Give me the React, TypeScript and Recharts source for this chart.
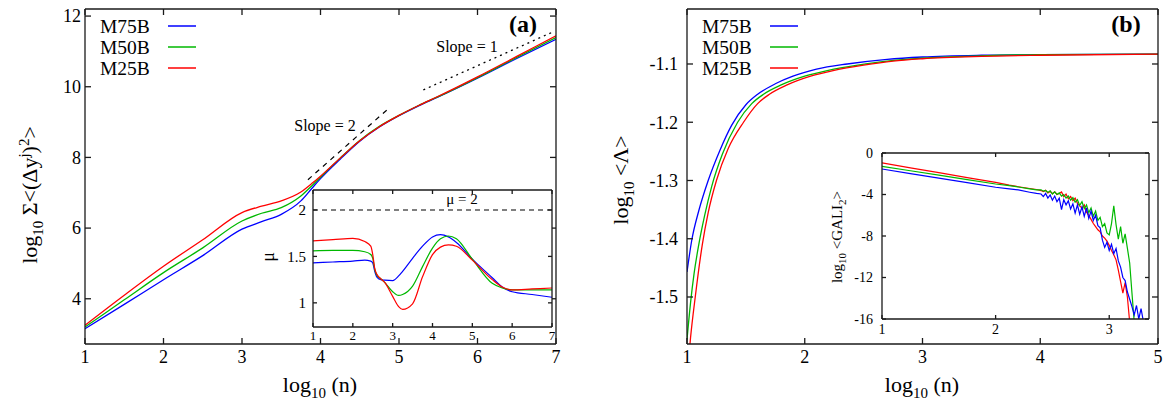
import React from 'react';
import { LineChart, Line, XAxis, YAxis, CartesianGrid, ReferenceLine } from 'recharts';

// ---- panel (a): log10 sum <(dy^j)^2> vs log10(n)
const LOG_N_A = [1, 1.5, 2, 2.5, 3, 3.25, 3.5, 3.75, 3.9, 4, 4.25, 4.5, 4.75, 5, 5.25, 5.5, 6, 6.5, 7];
const MSD_M75B = [3.15, 3.84, 4.54, 5.22, 5.97, 6.18, 6.39, 6.77, 7.15, 7.4, 7.95, 8.46, 8.86, 9.18, 9.46, 9.71, 10.24, 10.8, 11.34];
const MSD_M50B = [3.2, 3.97, 4.74, 5.44, 6.2, 6.42, 6.58, 6.91, 7.22, 7.44, 7.98, 8.48, 8.88, 9.19, 9.47, 9.72, 10.26, 10.83, 11.39];
const MSD_M25B = [3.25, 4.1, 4.92, 5.67, 6.44, 6.62, 6.77, 7.02, 7.28, 7.47, 7.98, 8.47, 8.87, 9.19, 9.47, 9.73, 10.28, 10.86, 11.44];

const SLOPE2_X = [3.84, 4.85];
const SLOPE2_Y = [7.37, 9.35];
const SLOPE1_X = [5.31, 6.96];
const SLOPE1_Y = [9.91, 11.55];

const X_TICKS_A = [1, 2, 3, 4, 5, 6, 7];
const Y_TICKS_A = [4, 6, 8, 10, 12];

// ---- inset (a): mu
const MU_X = [1, 1.5, 2, 2.3, 2.45, 2.5, 2.55, 2.6, 2.7, 2.8, 3, 3.15, 3.25, 3.5, 3.75, 4, 4.2, 4.4, 4.6, 5, 5.5, 5.75, 6, 6.5, 7];
const MU_M75B = [1.43, 1.44, 1.45, 1.46, 1.45, 1.43, 1.34, 1.28, 1.25, 1.245, 1.24, 1.29, 1.34, 1.48, 1.61, 1.71, 1.735, 1.71, 1.65, 1.47, 1.27, 1.17, 1.12, 1.09, 1.06];
const MU_M50B = [1.56, 1.565, 1.565, 1.55, 1.52, 1.48, 1.36, 1.3, 1.26, 1.22, 1.12, 1.08, 1.09, 1.18, 1.39, 1.59, 1.69, 1.72, 1.69, 1.47, 1.21, 1.16, 1.14, 1.14, 1.14];
const MU_M25B = [1.667, 1.68, 1.695, 1.66, 1.61, 1.52, 1.37, 1.31, 1.26, 1.22, 1.07, 0.96, 0.93, 0.99, 1.28, 1.52, 1.6, 1.625, 1.61, 1.46, 1.25, 1.17, 1.14, 1.15, 1.16];
const MU_X_TICKS = [1, 2, 3, 4, 5, 6, 7];
const MU_Y_TICKS = [1, 1.5, 2];

// ---- panel (b): log10 <Lambda>
const LAMBDA_X_M75B = [1, 1.04, 1.1, 1.18, 1.28, 1.38, 1.5, 1.6, 1.75, 1.9, 2.1, 2.36, 2.7, 3, 3.5, 4, 5];
const LAMBDA_M75B = [-1.457, -1.403, -1.352, -1.3, -1.248, -1.205, -1.17, -1.152, -1.134, -1.121, -1.109, -1.1, -1.092, -1.088, -1.085, -1.084, -1.083];
const LAMBDA_X_M50B = [1, 1.03, 1.06, 1.1, 1.15, 1.21, 1.3, 1.43, 1.55, 1.65, 1.8, 2, 2.2, 2.45, 2.7, 3, 3.5, 4, 5];
const LAMBDA_M50B = [-1.573, -1.51, -1.46, -1.41, -1.36, -1.31, -1.255, -1.2, -1.168, -1.152, -1.136, -1.121, -1.111, -1.102, -1.095, -1.09, -1.086, -1.084, -1.083];
const LAMBDA_X_M25B = [1, 1.03, 1.07, 1.13, 1.18, 1.25, 1.35, 1.48, 1.6, 1.7, 1.85, 2.05, 2.25, 2.5, 2.75, 3, 3.5, 4, 5];
const LAMBDA_M25B = [-1.64, -1.57, -1.5, -1.41, -1.355, -1.3, -1.245, -1.2, -1.168, -1.152, -1.136, -1.121, -1.111, -1.102, -1.095, -1.091, -1.087, -1.085, -1.083];
const X_TICKS_B = [1, 2, 3, 4, 5];
const Y_TICKS_B = [-1.5, -1.4, -1.3, -1.2, -1.1];

// ---- inset (b): log10 <GALI2>
const GALI_X = [
  1, 1.25, 1.5, 1.75, 2, 2.12, 2.2, 2.3, 2.36,
  2.4, 2.42, 2.44, 2.46, 2.48, 2.5, 2.52, 2.54, 2.56, 2.58,
  2.6, 2.62, 2.64, 2.66, 2.68, 2.7, 2.72, 2.74, 2.76, 2.78,
  2.8, 2.82, 2.84, 2.86, 2.88, 2.9, 2.92, 2.94, 2.96, 2.98,
  3.0, 3.02, 3.04, 3.06, 3.08, 3.1, 3.12, 3.14, 3.16, 3.18,
  3.2, 3.22, 3.24, 3.26, 3.28, 3.3,
];
const GALI_M75B = [
  -1.54, -1.98, -2.42, -2.86, -3.3, -3.45, -3.56, -3.78, -3.9,
  -3.95, -4.2, -3.9, -4.35, -4.05, -4.55, -4.15, -4.7, -4.35, -5.45,
  -4.5, -5.0, -4.6, -5.4, -4.9, -5.8, -5.0, -5.9, -5.2, -6.1,
  -5.3, -6.3, -5.6, -6.5, -6.0, -7.0, -7.2, -8.4, -9.1, -8.6,
  -9.4, -8.8, -9.7, -9.2, -10.4, -11.0, -12.0, -12.3, -13.4, -14.1,
  -14.8, -15.6, -14.7, -16.0, -15.0, -16.2,
];
const GALI_M50B = [
  -1.28, -1.71, -2.14, -2.57, -2.99, -3.15, -3.28, -3.45, -3.55,
  -3.55, -3.68, -3.6, -3.8, -3.65, -3.95, -3.75, -4.0, -3.85, -4.15,
  -4.0, -4.35, -4.15, -4.55, -4.3, -4.75, -4.5, -5.05, -4.7, -5.35,
  -5.0, -5.75, -5.3, -6.1, -5.6, -6.5, -6.2, -7.1, -6.8, -7.7,
  -7.9, -6.8, -5.1, -6.9, -8.3, -7.1, -8.7, -7.8, -9.2, -10.6,
  -13.5, -16.3, null, null, null, null,
];
const GALI_M25B = [
  -0.96, -1.43, -1.9, -2.37, -2.83, -3.1, -3.25, -3.42, -3.52,
  -3.62, -3.72, -3.6, -3.85, -3.7, -3.92, -3.75, -4.0, -3.9, -3.75,
  -4.2, -3.95, -4.4, -4.2, -4.6, -4.35, -4.85, -5.1, -5.3, -5.0,
  -5.7, -6.0, -6.4, -6.8, -7.1, -7.4, -7.6, -8.0, -8.2, -8.5,
  -8.9, -9.4, -9.8, -10.3, -11.3, -12.4, -13.5, -12.5, -13.9, -16.3,
  null, null, null, null, null, null,
];
const GALI_X_TICKS = [1, 2, 3];
const GALI_Y_TICKS = [-16, -12, -8, -4, 0];

const SERIES = ['M75B', 'M50B', 'M25B'];

const FONT = '"Liberation Serif", "Times New Roman", serif';
const INK = '#1a1a1a';
const COLORS: Record<string, string> = { M75B: '#0000ff', M50B: '#00b800', M25B: '#ff0000' };

const pts = (xs: number[], ys: (number | null)[]) => xs.map((x, i) => ({ x, y: ys[i] }));

const msd: Record<string, number[]> = { M75B: MSD_M75B, M50B: MSD_M50B, M25B: MSD_M25B };
const mu: Record<string, number[]> = { M75B: MU_M75B, M50B: MU_M50B, M25B: MU_M25B };
const lambda: Record<string, [number[], number[]]> = {
  M75B: [LAMBDA_X_M75B, LAMBDA_M75B],
  M50B: [LAMBDA_X_M50B, LAMBDA_M50B],
  M25B: [LAMBDA_X_M25B, LAMBDA_M25B],
};
const gali: Record<string, (number | null)[]> = { M75B: GALI_M75B, M50B: GALI_M50B, M25B: GALI_M25B };

type FrameOpts = {
  xDomain: [number, number];
  xTicks: number[];
  yDomain: [number, number];
  yTicks: number[];
  tickLen: number;
  xFont: number;
  yFont: number;
  xMargin: number;
  yMargin: number;
  yWidth: number;
  xHeight: number;
  yFormat?: (v: number) => string;
};

// gnuplot-like box: inward ticks on all four sides, labels on bottom/left only
function frameAxes(p: FrameOpts) {
  const blank = () => '';
  return [
    <XAxis key="xb" dataKey="x" type="number" domain={p.xDomain} ticks={p.xTicks} allowDataOverflow interval={0}
      height={p.xHeight} tickSize={-p.tickLen} tickMargin={p.xMargin} stroke={INK} strokeWidth={1.3}
      tick={{ fill: '#000', fontSize: p.xFont, fontFamily: FONT }} />,
    <XAxis key="xt" xAxisId="top" orientation="top" dataKey="x" type="number" domain={p.xDomain} ticks={p.xTicks}
      allowDataOverflow interval={0} height={1} tickSize={-p.tickLen} stroke={INK} strokeWidth={1.3} tickFormatter={blank} />,
    <YAxis key="yl" type="number" domain={p.yDomain} ticks={p.yTicks} allowDataOverflow interval={0}
      width={p.yWidth} tickSize={-p.tickLen} tickMargin={p.yMargin} stroke={INK} strokeWidth={1.3}
      tick={{ fill: '#000', fontSize: p.yFont, fontFamily: FONT }} tickFormatter={p.yFormat} />,
    <YAxis key="yr" yAxisId="right" orientation="right" type="number" domain={p.yDomain} ticks={p.yTicks}
      allowDataOverflow interval={0} width={1} tickSize={-p.tickLen} stroke={INK} strokeWidth={1.3} tickFormatter={blank} />,
  ];
}

const PanelA = () => (
  <div style={{ position: 'absolute', left: 0, top: 0 }}>
    <LineChart width={580} height={405} margin={{ top: 8, right: 23, bottom: 31, left: 25 }}>
      {frameAxes({
        xDomain: [1, 7], xTicks: X_TICKS_A, yDomain: [2.72, 12.2], yTicks: Y_TICKS_A,
        tickLen: 6, xFont: 18, yFont: 18, xMargin: 12, yMargin: 10, yWidth: 60, xHeight: 30,
      })}
      <Line data={pts(SLOPE2_X, SLOPE2_Y)} dataKey="y" type="linear" stroke="#000" strokeWidth={1.2}
        strokeDasharray="5 5" dot={false} isAnimationActive={false} />
      <Line data={pts(SLOPE1_X, SLOPE1_Y)} dataKey="y" type="linear" stroke="#000" strokeWidth={1.3}
        strokeDasharray="2 4" dot={false} isAnimationActive={false} />
      {SERIES.map((s) => (
        <Line key={s} data={pts(LOG_N_A, msd[s])} dataKey="y" type="monotone" stroke={COLORS[s]}
          strokeWidth={1.3} dot={false} isAnimationActive={false} />
      ))}
    </LineChart>
  </div>
);

const InsetA = () => (
  <div style={{ position: 'absolute', left: 270, top: 185 }}>
    <LineChart width={290} height={165} margin={{ top: 4, right: 7, bottom: 3, left: 13 }}>
      <CartesianGrid horizontal={false} vertical={false} fill="#fff" fillOpacity={1} />
      {frameAxes({
        xDomain: [1, 7], xTicks: MU_X_TICKS, yDomain: [0.74, 2.215], yTicks: MU_Y_TICKS,
        tickLen: 4, xFont: 13, yFont: 15, xMargin: 8, yMargin: 11, yWidth: 30, xHeight: 20,
        yFormat: (v) => String(v),
      })}
      <ReferenceLine y={2} stroke="#000" strokeWidth={1.1} strokeDasharray="5 4" />
      {SERIES.map((s) => (
        <Line key={s} data={pts(MU_X, mu[s])} dataKey="y" type="monotone" stroke={COLORS[s]}
          strokeWidth={1.2} dot={false} isAnimationActive={false} />
      ))}
    </LineChart>
  </div>
);

const PanelB = () => (
  <div style={{ position: 'absolute', left: 580, top: 0 }}>
    <LineChart width={586} height={405} margin={{ top: 8, right: 7, bottom: 31, left: 47 }}>
      {frameAxes({
        xDomain: [1, 5], xTicks: X_TICKS_B, yDomain: [-1.5807, -1.0056], yTicks: Y_TICKS_B,
        tickLen: 6, xFont: 18, yFont: 18, xMargin: 12, yMargin: 15, yWidth: 60, xHeight: 30,
        yFormat: (v) => v.toFixed(1),
      })}
      {SERIES.map((s) => (
        <Line key={s} data={pts(lambda[s][0], lambda[s][1])} dataKey="y" type="monotone" stroke={COLORS[s]}
          strokeWidth={1.3} dot={false} isAnimationActive={false} />
      ))}
    </LineChart>
  </div>
);

const InsetB = () => (
  <div style={{ position: 'absolute', left: 840, top: 140 }}>
    <LineChart width={320} height={204} margin={{ top: 12, right: 10, bottom: 5, left: 12 }}>
      <CartesianGrid horizontal={false} vertical={false} fill="#fff" fillOpacity={1} />
      {frameAxes({
        xDomain: [1, 3.35], xTicks: GALI_X_TICKS, yDomain: [-16, 0], yTicks: GALI_Y_TICKS,
        tickLen: 4, xFont: 14, yFont: 14, xMargin: 9, yMargin: 13, yWidth: 30, xHeight: 20,
      })}
      {['M25B', 'M50B', 'M75B'].map((s) => (
        <Line key={s} data={pts(GALI_X, gali[s])} dataKey="y" type="linear" stroke={COLORS[s]}
          strokeWidth={1.2} dot={false} isAnimationActive={false} />
      ))}
    </LineChart>
  </div>
);

const Legend = ({ x, lineX }: { x: number; lineX: number }) => (
  <g>
    {SERIES.map((s, i) => (
      <g key={s}>
        <text x={x} y={26 + 21 * i + 7} fontSize={19.5}>{s}</text>
        <line x1={lineX} x2={lineX + 28} y1={26 + 21 * i} y2={26 + 21 * i} stroke={COLORS[s]} strokeWidth={1.5} />
      </g>
    ))}
  </g>
);

const Overlay = () => (
  <svg width={1166} height={405} fontFamily={FONT} fill="#000"
    style={{ position: 'absolute', left: 0, top: 0, pointerEvents: 'none' }}>
    <Legend x={100} lineX={168} />
    <Legend x={702} lineX={770} />

    <text x={523} y={32} fontSize={24} fontWeight="bold" textAnchor="middle">(a)</text>
    <text x={1126} y={32} fontSize={24} fontWeight="bold" textAnchor="middle">(b)</text>

    <text x={325} y={131} fontSize={16} textAnchor="middle">Slope = 2</text>
    <text x={467} y={52} fontSize={16} textAnchor="middle">Slope = 1</text>
    <text x={462} y={204} fontSize={15} textAnchor="middle">μ = 2</text>

    {/* x titles */}
    <text x={320} y={392} fontSize={22} textAnchor="middle">
      log<tspan fontSize={15} dy={6}>10</tspan><tspan dy={-6}> (n)</tspan>
    </text>
    <text x={922} y={392} fontSize={22} textAnchor="middle">
      log<tspan fontSize={15} dy={6}>10</tspan><tspan dy={-6}> (n)</tspan>
    </text>

    {/* y titles */}
    <text transform="translate(37,195) rotate(-90)" fontSize={22} textAnchor="middle">
      log<tspan fontSize={15} dy={6}>10</tspan><tspan dy={-6}> Σ&lt;(Δy</tspan>
      <tspan fontSize={15} dy={-8}>j</tspan><tspan dy={8}>)</tspan>
      <tspan fontSize={15} dy={-8}>2</tspan><tspan dy={8}>&gt;</tspan>
    </text>
    <text transform="translate(628,180) rotate(-90)" fontSize={22} textAnchor="middle">
      log<tspan fontSize={15} dy={6}>10</tspan><tspan dy={-6}> &lt;Λ&gt;</tspan>
    </text>
    <text transform="translate(274,257) rotate(-90)" fontSize={18} textAnchor="middle">μ</text>
    <text transform="translate(842,237) rotate(-90)" fontSize={15} textAnchor="middle">
      log<tspan fontSize={11} dy={4}>10</tspan><tspan dy={-4}> &lt;GALI</tspan>
      <tspan fontSize={11} dy={4}>2</tspan><tspan dy={-4}>&gt;</tspan>
    </text>
  </svg>
);

export default function App() {
  return (
    <div style={{ position: 'absolute', left: 0, top: 0, width: 1166, height: 405, background: '#fff', fontFamily: FONT }}>
      <PanelA />
      <InsetA />
      <PanelB />
      <InsetB />
      <Overlay />
    </div>
  );
}
